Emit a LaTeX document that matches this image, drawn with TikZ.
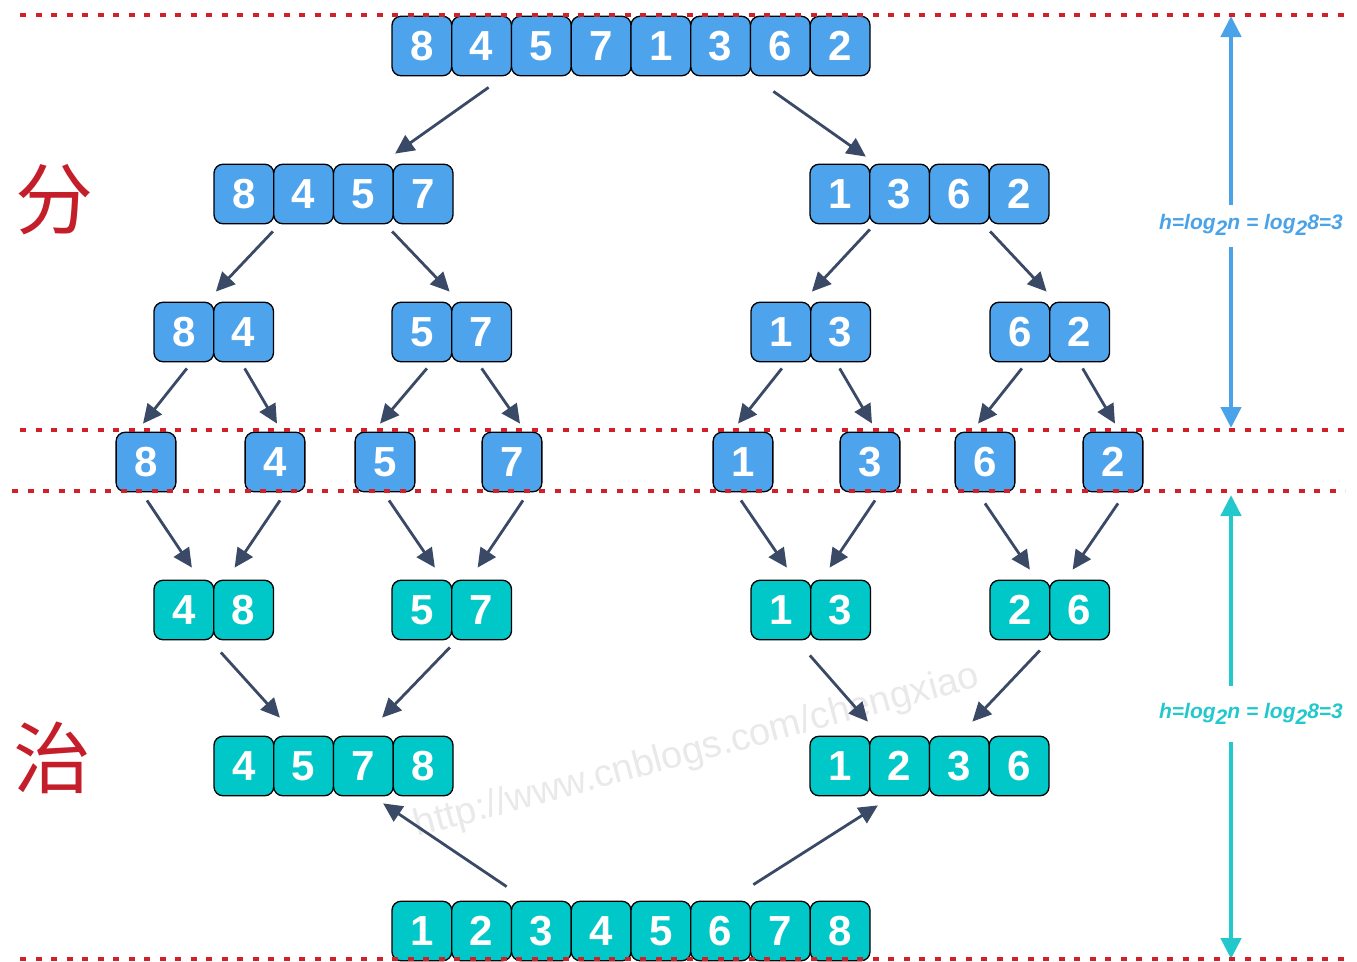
\documentclass[tikz,border=0pt]{standalone}
\usepackage{fontspec}
\setmainfont{Liberation Sans}
\newfontfamily\cjkfont{Noto Sans CJK SC}
\usetikzlibrary{arrows.meta,calc}

\definecolor{cellblue}{HTML}{4DA3EC}
\definecolor{cellteal}{HTML}{00C8C8}
\definecolor{arrowcol}{HTML}{3A4A66}
\definecolor{dotred}{HTML}{D0202A}
\definecolor{hanred}{HTML}{C41E2A}
\definecolor{hblue}{HTML}{4AA3E8}
\definecolor{hteal}{HTML}{22C8CC}
\definecolor{wmark}{HTML}{E9E9E9}

\tikzset{
  cell/.style={draw=black, line width=1.3pt, rounded corners=9pt,
    minimum width=59.75pt, minimum height=59.5pt, inner sep=0pt,
    text=white, font=\fontsize{42}{42}\selectfont\bfseries},
  bluecell/.style={cell, fill=cellblue},
  tealcell/.style={cell, fill=cellteal},
  arr/.style={draw=arrowcol, line width=2.8pt, -{Triangle[length=19pt,width=18pt]}},
  guide/.style={draw=dotred, line width=3.2pt, dash pattern=on 6pt off 9.5pt},
  hlabel/.style={inner sep=2pt, font=\fontsize{21}{21}\selectfont\bfseries\itshape},
  harr/.style={line width=4.5pt, -{Triangle[length=21pt,width=20pt]}},
  han/.style={text=hanred, font=\cjkfont\fontsize{78}{78}\selectfont},
}

% a row of adjacent cells: name, left edge, centre y, style, values
\newcommand\cellrow[5]{%
  \foreach \v [count=\i] in {#5} {
    \node[#4] (#1\i) at ({#2+59.75*(\i-0.5)},#3) {\v};
  }}
\newcommand\hsub[1]{\raisebox{-6.5pt}{#1}}

\begin{document}
\begin{tikzpicture}[x=1pt,y=-1pt]
\useasboundingbox (0,0) rectangle (1357,961);

% watermark
\node[text=wmark, font=\fontsize{38}{38}\selectfont, rotate=15] (wm) at (697,752) {http://www.cnblogs.com/chengxiao};

% divide phase
\cellrow{A}{392}{46}{bluecell}{8,4,5,7,1,3,6,2}
\cellrow{B}{214}{194}{bluecell}{8,4,5,7}
\cellrow{C}{810}{194}{bluecell}{1,3,6,2}
\cellrow{D}{154}{332}{bluecell}{8,4}
\cellrow{E}{392}{332}{bluecell}{5,7}
\cellrow{F}{751}{332}{bluecell}{1,3}
\cellrow{G}{990}{332}{bluecell}{6,2}

\node[bluecell] (s1) at (146,462) {8};
\node[bluecell] (s2) at (275,462) {4};
\node[bluecell] (s3) at (385,462) {5};
\node[bluecell] (s4) at (512,462) {7};
\node[bluecell] (s5) at (743,462) {1};
\node[bluecell] (s6) at (870,462) {3};
\node[bluecell] (s7) at (985,462) {6};
\node[bluecell] (s8) at (1113,462) {2};

% conquer phase
\cellrow{H}{154}{610}{tealcell}{4,8}
\cellrow{I}{392}{610}{tealcell}{5,7}
\cellrow{J}{751}{610}{tealcell}{1,3}
\cellrow{K}{990}{610}{tealcell}{2,6}
\cellrow{L}{214}{766}{tealcell}{4,5,7,8}
\cellrow{M}{810}{766}{tealcell}{1,2,3,6}
\cellrow{N}{392}{931}{tealcell}{1,2,3,4,5,6,7,8}

% split arrows
\draw[arr] ($(A2.south)+(7,11)$) -- ($(B4.north)+(-28,-10)$);
\draw[arr] ($(A7.south)+(-7,15)$) -- ($(C1.north)+(26,-7)$);
\draw[arr] ($(B1.south)+(29,7)$) -- ($(D1.north)+(32,-10)$);
\draw[arr] ($(B4.south)+(-31,7)$) -- ($(E2.north)+(-32,-10)$);
\draw[arr] ($(C1.south)+(30,5)$) -- ($(F1.north)+(31,-10)$);
\draw[arr] ($(C4.south)+(-29,7)$) -- ($(G2.north)+(-33,-10)$);
\draw[arr] ($(D1.south)+(3,6)$) -- ($(s1.north)+(-3,-8)$);
\draw[arr] ($(D2.south)+(1,6)$) -- ($(s2.north)+(2,-8)$);
\draw[arr] ($(E1.south)+(5,6)$) -- ($(s3.north)+(-5,-8)$);
\draw[arr] ($(E2.south)+(0,6)$) -- ($(s4.north)+(8,-8)$);
\draw[arr] ($(F1.south)+(1,6)$) -- ($(s5.north)+(-5,-8)$);
\draw[arr] ($(F2.south)+(-1,6)$) -- ($(s6.north)+(2,-8)$);
\draw[arr] ($(G1.south)+(2,6)$) -- ($(s7.north)+(-7,-8)$);
\draw[arr] ($(G2.south)+(3,6)$) -- ($(s8.north)+(2,-8)$);

% merge arrows
\draw[arr] ($(s1.south)+(1,8)$) -- ($(H1.north)+(8,-12)$);
\draw[arr] ($(s2.south)+(5,8)$) -- ($(H2.north)+(-9,-12)$);
\draw[arr] ($(s3.south)+(4,8)$) -- ($(I1.north)+(13,-12)$);
\draw[arr] ($(s4.south)+(11,8)$) -- ($(I2.north)+(-4,-12)$);
\draw[arr] ($(s5.south)+(-2,8)$) -- ($(J1.north)+(6,-12)$);
\draw[arr] ($(s6.south)+(5,8)$) -- ($(J2.north)+(-11,-12)$);
\draw[arr] ($(s7.south)+(0,11)$) -- ($(K1.north)+(10,-10)$);
\draw[arr] ($(s8.south)+(5,11)$) -- ($(K2.north)+(-7,-10)$);
\draw[arr] ($(H1.south)+(37,12)$) -- ($(L1.north)+(36,-18)$);
\draw[arr] ($(I1.south)+(28,7)$) -- ($(L4.north)+(-41,-18)$);
\draw[arr] ($(J1.south)+(29,15)$) -- ($(M1.north)+(28,-14)$);
\draw[arr] ($(K1.south)+(20,10)$) -- ($(M3.north)+(13,-14)$);
\draw[arr] ($(N2.north)+(25,-14)$) -- ($(L4.south)+(-40,7)$);
\draw[arr] ($(N7.north)+(-27,-16)$) -- ($(M1.south)+(38,9)$);

% phase captions
\node[han] (fen) at (55,200) {分};
\node[han] (zhi) at (52,758) {治};

% height of the recursion tree
\node[hlabel, text=hblue] (hb) at (1251,225) {h=log\hsub{2}n = log\hsub{2}8=3};
\node[hlabel, text=hteal] (ht) at (1251,714) {h=log\hsub{2}n = log\hsub{2}8=3};
\coordinate (hbtop) at (1231,16);
\coordinate (hbbot) at (1231,428);
\coordinate (httop) at (1231,495);
\coordinate (htbot) at (1231,959);
\draw[harr, draw=hblue, fill=hblue] (hbtop |- 0,205) -- (hbtop);
\draw[harr, draw=hblue, fill=hblue] (hbbot |- 0,247) -- (hbbot);
\draw[harr, draw=hteal, fill=hteal] (httop |- 0,686) -- (httop);
\draw[harr, draw=hteal, fill=hteal] (htbot |- 0,742) -- (htbot);

% level guides
\coordinate (g1l) at (20,15);   \coordinate (g1r) at (1345,15);
\coordinate (g2l) at (20,430);  \coordinate (g2r) at (1345,430);
\coordinate (g3l) at (12,491);  \coordinate (g3r) at (1345,491);
\coordinate (g4l) at (20,959);  \coordinate (g4r) at (1345,959);
\draw[guide] (g1l) -- (g1r);
\draw[guide] (g2l) -- (g2r);
\draw[guide] (g3l) -- (g3r);
\draw[guide] (g4l) -- (g4r);
\end{tikzpicture}
\end{document}
